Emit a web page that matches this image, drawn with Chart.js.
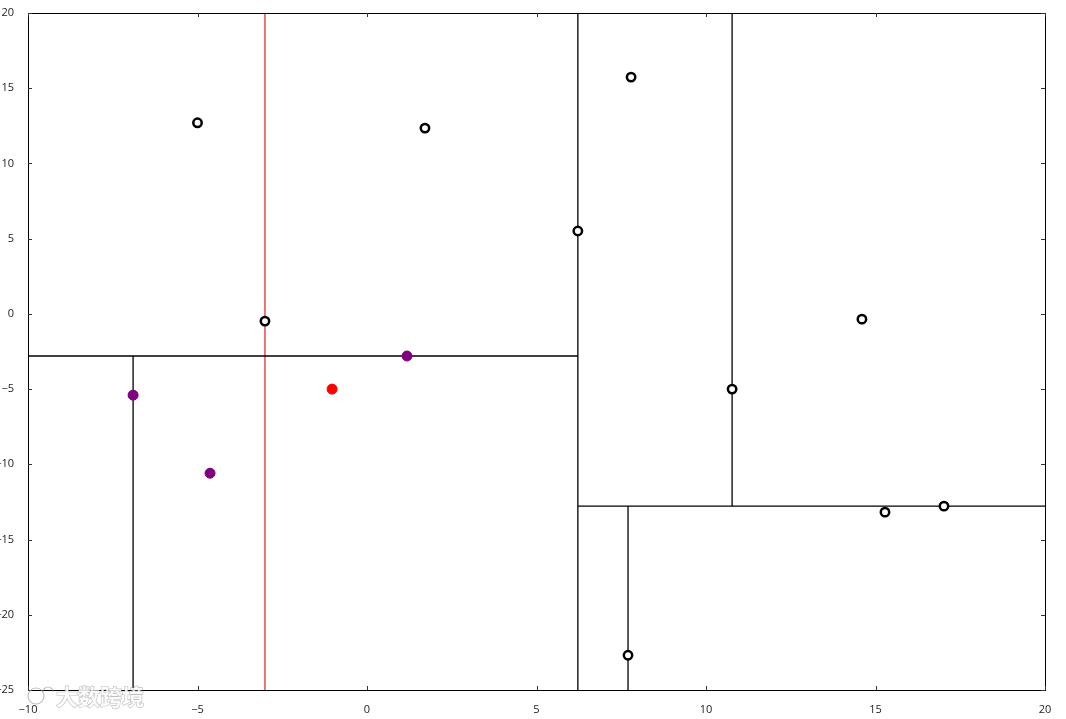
<!DOCTYPE html>
<html lang="en">
<head>
    <meta charset="UTF-8">
    <title>KD-tree split scatter</title>
    <script src="https://cdn.jsdelivr.net/npm/chart.js"></script>
    <style>
        body { margin: 0; background: #ffffff; }
        #wrap { width: 1066px; height: 719px; position: relative; }
    </style>
</head>
<body>
<div id="wrap"><canvas id="chart"></canvas></div>

<script>
    // axis ticks
    const xTicks = [-10, -5, 0, 5, 10, 15, 20];
    const yTicks = [-25, -20, -15, -10, -5, 0, 5, 10, 15, 20];

    // plain points (open circles)
    const openX = [-5.0, 1.71, 7.79, 6.22, -3.01, 14.6, 10.77, 15.28, 17.02, 7.7];
    const openY = [12.7, 12.35, 15.74, 5.51, -0.48, -0.35, -5.0, -13.18, -12.78, -22.69];

    // nearest neighbours (purple)
    const nearX = [-6.9, -4.63, 1.18];
    const nearY = [-5.4, -10.59, -2.8];

    // query point (red)
    const queryX = [-1.03];
    const queryY = [-5.0];

    // split segments: [x1, y1, x2, y2]
    const splits = [
        [6.22, -25, 6.22, 20],
        [-10, -2.8, 6.22, -2.8],
        [-6.9, -25, -6.9, -2.8],
        [6.22, -12.78, 20, -12.78],
        [10.77, -12.78, 10.77, 20],
        [7.7, -25, 7.7, -12.78]
    ];
    // search radius line (red)
    const redLine = [-3.01, -25, -3.01, 20];

    const pts = (xs, ys) => xs.map((x, i) => ({ x: x, y: ys[i] }));
    const fmt = v => (v < 0 ? '\u2212' + Math.abs(v) : '' + v);

    const datasets = [];
    splits.forEach(s => {
        datasets.push({
            type: 'line',
            data: [{ x: s[0], y: s[1] }, { x: s[2], y: s[3] }],
            borderColor: '#000000',
            borderWidth: 1.3,
            pointRadius: 0,
            order: 3
        });
    });
    datasets.push({
        type: 'line',
        data: [{ x: redLine[0], y: redLine[1] }, { x: redLine[2], y: redLine[3] }],
        borderColor: '#e03030',
        borderWidth: 1.3,
        pointRadius: 0,
        order: 3
    });
    datasets.push({
        data: pts(openX, openY),
        pointBackgroundColor: '#ffffff',
        pointBorderColor: '#000000',
        pointBorderWidth: 2.5,
        pointRadius: 4.2,
        order: 1
    });
    datasets.push({
        data: pts(nearX, nearY),
        pointBackgroundColor: '#800080',
        pointBorderColor: '#800080',
        pointBorderWidth: 1,
        pointRadius: 5,
        order: 1
    });
    datasets.push({
        data: pts(queryX, queryY),
        pointBackgroundColor: '#ff0000',
        pointBorderColor: '#ff0000',
        pointBorderWidth: 1,
        pointRadius: 5,
        order: 1
    });

    // frame, inward ticks and the watermark
    const framePlugin = {
        id: 'frame',
        afterDatasetsDraw(chart) {
            const { ctx, chartArea: a, scales } = chart;
            ctx.save();
            ctx.strokeStyle = '#000000';
            ctx.lineWidth = 1;
            ctx.strokeRect(a.left + 0.5, a.top + 0.5, a.right - a.left, a.bottom - a.top);
            ctx.strokeStyle = '#333333';
            const len = 4;
            ctx.beginPath();
            xTicks.forEach(v => {
                const px = Math.round(scales.x.getPixelForValue(v)) + 0.5;
                ctx.moveTo(px, a.bottom); ctx.lineTo(px, a.bottom - len);
                ctx.moveTo(px, a.top); ctx.lineTo(px, a.top + len);
            });
            yTicks.forEach(v => {
                const py = Math.round(scales.y.getPixelForValue(v)) + 0.5;
                ctx.moveTo(a.left, py); ctx.lineTo(a.left + len, py);
                ctx.moveTo(a.right, py); ctx.lineTo(a.right - len, py);
            });
            ctx.stroke();
            ctx.restore();
        },
        afterDraw(chart) {
            const ctx = chart.ctx;
            ctx.save();
            ctx.font = 'bold 22px "Noto Sans CJK SC"';
            ctx.textBaseline = 'middle';
            ctx.lineWidth = 1.2;
            ctx.strokeStyle = 'rgba(150,150,150,0.6)';
            ctx.fillStyle = 'rgba(255,255,255,0.85)';
            ctx.beginPath();
            ctx.arc(36, 696, 8, 0, Math.PI * 2);
            ctx.stroke();
            ctx.beginPath();
            ctx.arc(48, 692, 5, Math.PI, 0);
            ctx.stroke();
            ctx.strokeText('大数跨境', 56, 697);
            ctx.fillText('大数跨境', 56, 697);
            ctx.restore();
        }
    };

    new Chart(document.getElementById('chart'), {
        type: 'scatter',
        data: { datasets: datasets },
        plugins: [framePlugin],
        options: {
            responsive: true,
            maintainAspectRatio: false,
            animation: false,
            layout: { padding: { top: 13, right: 21, left: 0, bottom: 0 } },
            plugins: { legend: { display: false }, tooltip: { enabled: false } },
            scales: {
                x: {
                    type: 'linear',
                    min: -10, max: 20,
                    afterBuildTicks: s => { s.ticks = xTicks.map(v => ({ value: v })); },
                    afterFit: s => { s.height = 29; },
                    grid: { display: false },
                    border: { display: false },
                    ticks: {
                        callback: fmt,
                        color: '#222222',
                        padding: 5,
                        maxRotation: 0,
                        autoSkip: false,
                        font: { family: 'Open Sans', size: 11 }
                    }
                },
                y: {
                    type: 'linear',
                    min: -25, max: 20,
                    afterBuildTicks: s => { s.ticks = yTicks.map(v => ({ value: v })); },
                    afterFit: s => { s.width = 28; },
                    grid: { display: false },
                    border: { display: false },
                    ticks: {
                        callback: fmt,
                        color: '#222222',
                        padding: 6,
                        autoSkip: false,
                        font: { family: 'Open Sans', size: 11 }
                    }
                }
            }
        }
    });
</script>
</body>
</html>
